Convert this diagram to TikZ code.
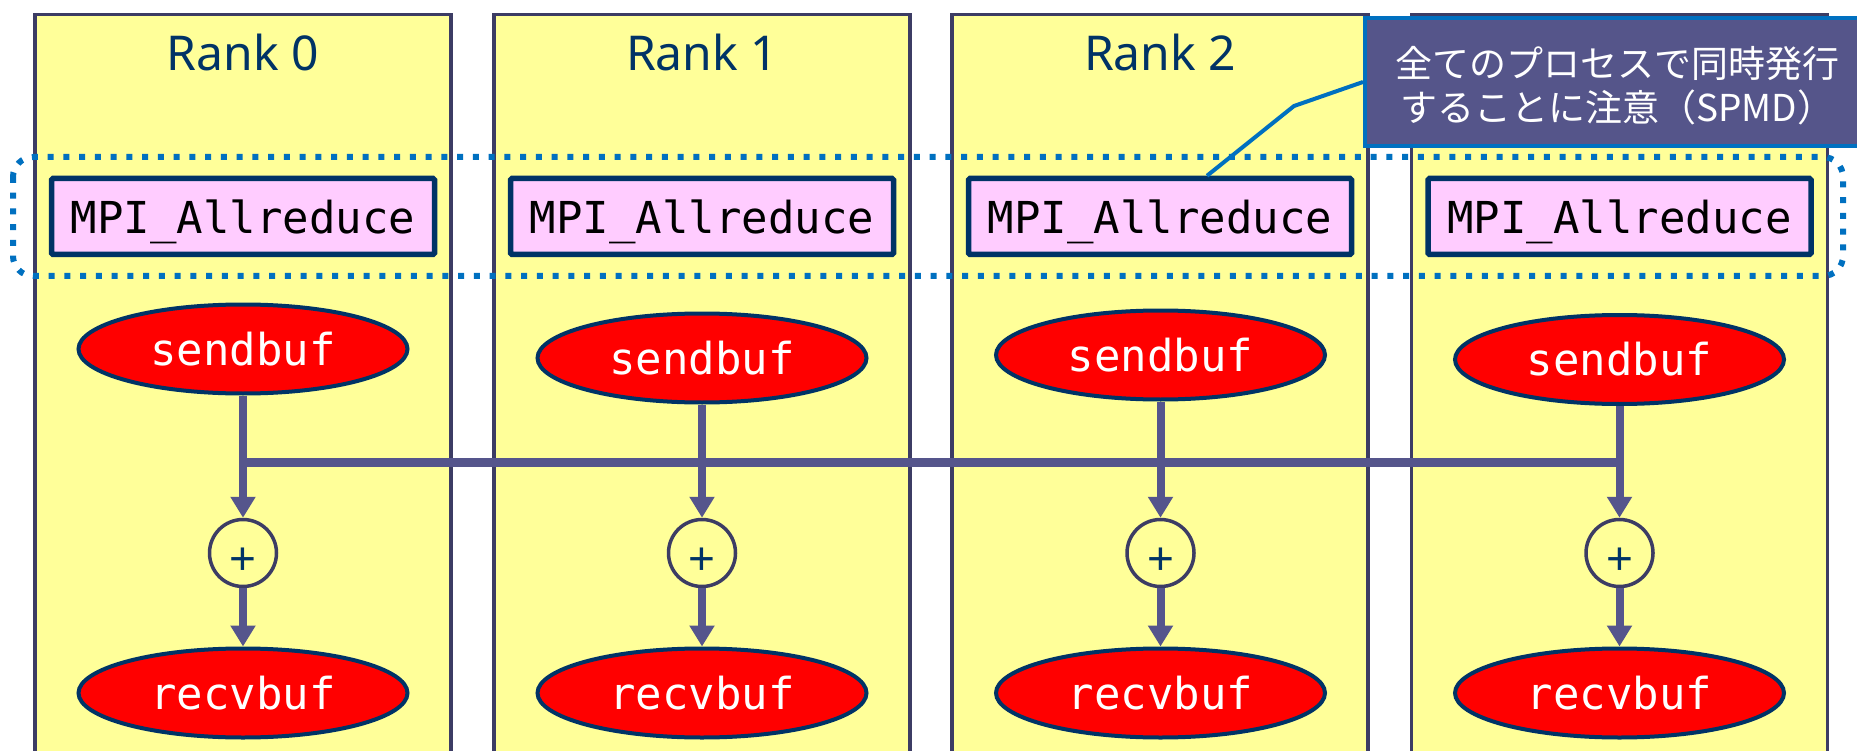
\documentclass[tikz,border=0pt]{standalone}
\usepackage{fontspec}
\setmainfont{Noto Sans}
\newfontfamily\monofont{DejaVu Sans Mono}
\newfontfamily\cjkfont{Noto Sans CJK JP}
\newfontfamily\opfont{Liberation Sans}
\usetikzlibrary{arrows.meta,shapes.geometric,calc}
\definecolor{colfill}{RGB}{255,255,153}
\definecolor{colborder}{RGB}{60,60,100}
\definecolor{navy}{RGB}{0,51,102}
\definecolor{busc}{RGB}{85,85,140}
\definecolor{dotblue}{RGB}{0,112,192}
\definecolor{pinkfill}{RGB}{255,204,255}
\definecolor{notefill}{RGB}{85,85,138}
\begin{document}
\begin{tikzpicture}[x=1pt,y=-1pt,
  lane/.style={draw=colborder, fill=colfill, line width=3.5pt},
  ranklabel/.style={text=navy, inner sep=0pt, font=\fontsize{48}{56}\selectfont},
  mpibox/.style={draw=navy, fill=pinkfill, line width=5.5pt, minimum width=383pt, minimum height=76pt, inner sep=0pt, text depth=0pt, rounded corners=1.5pt, font=\monofont\fontsize{44}{50}\selectfont},
  buf/.style={ellipse, draw=navy, fill=red, line width=4pt, minimum width=329pt, minimum height=89pt, inner sep=0pt, text=white, font=\monofont\fontsize{44}{50}\selectfont},
  opnode/.style={circle, draw=colborder, fill=colfill, line width=3.5pt, minimum size=67pt, inner sep=0pt, text=navy, font=\opfont\fontsize{46}{46}\selectfont},
  flow/.style={draw=busc, line width=8pt, -{Triangle[width=24pt,length=21pt]}},
  bus/.style={draw=busc, line width=9pt},
  groupline/.style={draw=dotblue, line width=6pt, dash pattern=on 6pt off 9.75pt, rounded corners=20pt},
  notebox/.style={draw=dotblue, fill=notefill, line width=4pt, minimum width=506pt, minimum height=128pt, inner sep=0pt},
  notetext/.style={text=white, align=center, inner sep=0pt, font=\cjkfont\fontsize{37}{44}\selectfont},
  pointer/.style={draw=dotblue, line width=4pt}
]
\useasboundingbox (0,0) rectangle (1857,751);
\fill[white] (0,0) rectangle (1857,751);

% lanes
\foreach \cx in {243,702,1160,1619.5}{
  \draw[lane] (\cx-208,14.5) rectangle (\cx+208,780);
}

% rank labels
\node[ranklabel] (r0) at (243,53) {Rank 0};
\node[ranklabel] (r1) at (702,53) {Rank 1};
\node[ranklabel] (r2) at (1160,53) {Rank 2};

% group outline
\draw[groupline] (13,157) rectangle (1843,276);

% MPI boxes
\node[mpibox] (m0) at (243,216.5) {MPI\_Allreduce};
\node[mpibox] (m1) at (702,216.5) {MPI\_Allreduce};
\node[mpibox] (m2) at (1160,216.5) {MPI\_Allreduce};
\node[mpibox] (m3) at (1619.5,216.5) {MPI\_Allreduce};

% send buffers
\node[buf] (s0) at (243,349) {sendbuf};
\node[buf] (s1) at (702,358) {sendbuf};
\node[buf] (s2) at (1160.5,355) {sendbuf};
\node[buf] (s3) at (1619.5,359.5) {sendbuf};

% reduction operators
\foreach \i/\cx in {0/243,1/702,2/1160.5,3/1619.5}{
  \node[opnode] (p\i) at (\cx,553) {\raisebox{-21pt}[0pt][0pt]{+}};
}

% receive buffers
\node[buf] (v0) at (243,693) {recvbuf};
\node[buf] (v1) at (702,693) {recvbuf};
\node[buf] (v2) at (1160.5,693) {recvbuf};
\node[buf] (v3) at (1619.5,693) {recvbuf};

% bus
\draw[bus] (s0.south |- 0,462) -- (s3.south |- 0,462);

% flows
\foreach \i in {0,1,2,3}{
  \draw[flow] (s\i.south) -- (p\i.north);
  \draw[flow] (p\i.south) -- (v\i.north);
}

% callout
\coordinate (knee) at (1294,106);
\node[notebox] (note) at (1618,82) {};
\draw[pointer] ($(m2.north)+(47,0)$) -- (knee) -- (note.west);
\node[notetext] (notelabel) at (1617,86) {全てのプロセスで同時発行\\することに注意（SPMD）};
\end{tikzpicture}
\end{document}
